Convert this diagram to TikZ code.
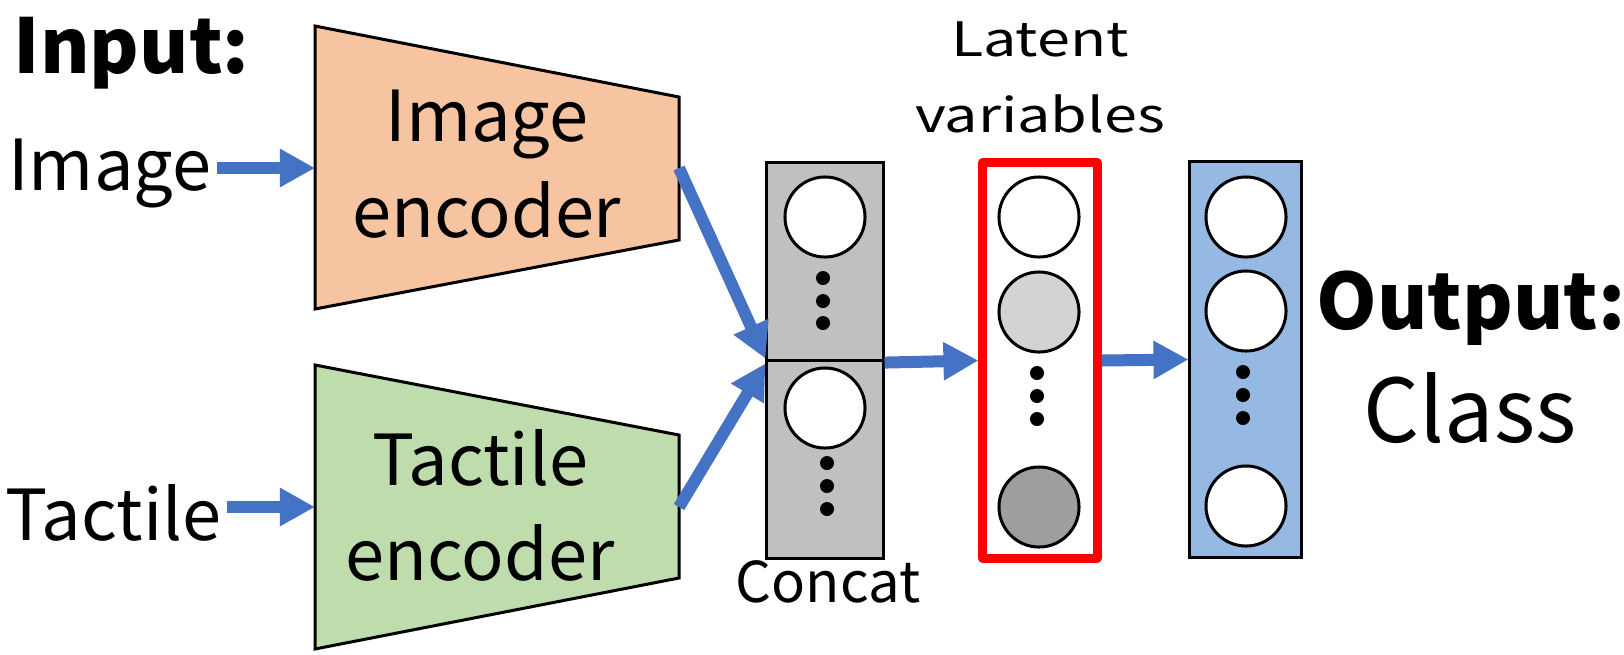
\documentclass[tikz,border=0pt]{standalone}
\usepackage{fontspec}
\setmainfont{Noto Sans CJK JP}
\newfontfamily\widefont[FakeStretch=1.25]{Noto Sans CJK JP}
\usetikzlibrary{arrows.meta}
\definecolor{flowblue}{RGB}{68,114,196}
\definecolor{imgfill}{RGB}{246,196,161}
\definecolor{tacfill}{RGB}{191,220,173}
\definecolor{outfill}{RGB}{149,185,226}
\definecolor{concatgray}{RGB}{192,192,192}
\definecolor{lightunit}{RGB}{211,211,211}
\definecolor{darkunit}{RGB}{158,158,158}
\tikzset{
  flow/.style={draw=flowblue, line width=0.12cm, -{Triangle[length=0.35cm,width=0.36cm]}},
  unit/.style={circle, draw, line width=0.03cm, fill=white, minimum size=0.8cm, inner sep=0pt},
  layer/.style={rectangle, draw, line width=0.03cm, minimum width=1.16cm, inner sep=0pt},
  enc/.style={draw, line width=0.03cm},
  label/.style={inner sep=0.05cm},
}
\begin{document}
\begin{tikzpicture}[x=0.01cm,y=-0.01cm]
\useasboundingbox (0,0) rectangle (1624,654);
\draw[enc,fill=imgfill] (315,26) -- (679,97) -- (679,240) -- (315,309) -- cycle;
\draw[enc,fill=tacfill] (315,365) -- (679,435) -- (679,578) -- (315,649) -- cycle;
\coordinate (imgin) at (315,168);
\coordinate (imgout) at (679,168);
\coordinate (tacin) at (315,507);
\coordinate (tacout) at (679,507);
\node[align=center,font=\fontsize{20}{27.3}\selectfont] (imgenc) at (487,164) {Image\\encoder};
\node[align=center,font=\fontsize{20}{27}\selectfont] (tacenc) at (480,505) {Tactile\\encoder};

\node[label,anchor=base west,font=\fontsize{21.5}{26}\selectfont\bfseries] (input) at (8,73) {Input:};
\node[label,anchor=base east,font=\fontsize{20}{24}\selectfont] (imglabel) at (217,190) {Image};
\node[label,anchor=base east,font=\fontsize{20}{24}\selectfont] (taclabel) at (227,540) {Tactile};

% layers
\node[layer,fill=concatgray,minimum height=1.98cm] (ctop) at (825,262) {};
\node[layer,fill=concatgray,minimum height=1.97cm] (cbot) at (825,459.5) {};
\node[draw=red,line width=0.09cm,line join=round,fill=white,minimum width=1.14cm,minimum height=3.95cm,inner sep=0pt] (latent) at (1040,360.5) {};
\node[layer,fill=outfill,minimum width=1.11cm,minimum height=3.95cm] (output) at (1245.5,359.5) {};

\node[unit] (c1) at (825,217) {};
\node[unit] (c2) at (825,408) {};
\node[unit] (l1) at (1039,217) {};
\node[unit,fill=lightunit] (l2) at (1039,312) {};
\node[unit,fill=darkunit] (l3) at (1039,507) {};
\node[unit] (o1) at (1246,217) {};
\node[unit] (o2) at (1246,311) {};
\node[unit] (o3) at (1246,506) {};
\foreach \y in {278,301,323} \fill (823,\y) circle (0.07cm);
\foreach \y in {463,486,509} \fill (827,\y) circle (0.07cm);
\foreach \y in {373,396,419} \fill (1037,\y) circle (0.07cm);
\foreach \y in {372,395,418} \fill (1243,\y) circle (0.07cm);

\node[anchor=base,font=\fontsize{16}{20}\selectfont] (concat) at (828,602) {Concat};
\node[align=center,font=\fontsize{13.5}{21.6}\selectfont\widefont] (latentlabel) at (1040,77.5) {Latent\\variables};
\node[anchor=base,font=\fontsize{22}{26}\selectfont\bfseries] (outlabel) at (1471,329) {Output:};
\node[anchor=base,font=\fontsize{25}{30}\selectfont] (classlabel) at (1470,442) {Class};

% connectors
\draw[flow] (imglabel.east |- imgin) -- (imgin);
\draw[flow] (taclabel.east |- tacin) -- (tacin);
\draw[flow] (imgout) -- ([yshift=0.04cm]ctop.south west);
\draw[flow] (tacout) -- ([yshift=-0.04cm]cbot.north west);
\draw[flow] (ctop.south east) -- (latent.west);
\draw[flow] (latent.east) -- (output.west);
\end{tikzpicture}
\end{document}
